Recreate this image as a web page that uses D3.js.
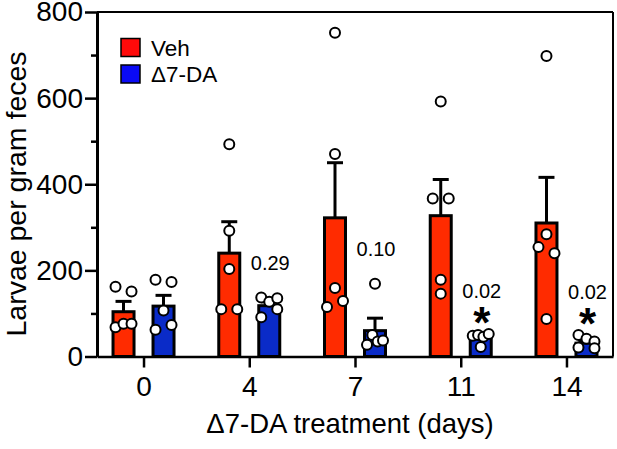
<!DOCTYPE html>
<html>
<head>
<meta charset="utf-8">
<script src="https://cdn.jsdelivr.net/npm/d3@7"></script>
<style>
  html, body { margin: 0; padding: 0; background: #fff; }
  svg { display: block; font-family: "Liberation Sans", Arial, Helvetica, sans-serif; }
</style>
</head>
<body>
<svg id="chart" width="617" height="449"></svg>
<script>
// ---- data ----
const categories = ["0", "4", "7", "11", "14"];
const series = ["Veh", "Δ7-DA"];
const vehMean = [104, 240, 322, 327, 310];
const vehSem = [24, 73, 128, 84, 106];
const daMean = [117, 118, 60, 47, 31];
const daSem = [25, 9, 29, 5, 6];
const vehPoints = [
  [162, 151, 68, 76, 76],
  [493, 292, 203, 110, 110],
  [752, 470, 159, 115, 129],
  [592, 367, 367, 178, 146],
  [698, 284, 254, 240, 87]
];
const daPoints = [
  [178, 173, 107, 62, 73],
  [137, 127, 135, 91, 110],
  [169, 27, 50, 35, 37],
  [48, 50, 46, 52, 22],
  [50, 41, 35, 21, 19]
];
const pLabels = ["", "0.29", "0.10", "0.02", "0.02"];
const significant = [false, false, false, true, true];
const yTicks = [0, 200, 400, 600, 800];
const yMinorTicks = [100, 300, 500, 700];
const xTitle = "Δ7-DA treatment (days)";
const yTitle = "Larvae per gram feces";

// ---- layout ----
const svg = d3.select("#chart");
const width = 617, height = 449;
const margin = { top: 12, right: 4, bottom: 92.5, left: 97 };
const W = width - margin.left - margin.right;
const H = height - margin.top - margin.bottom;
const barColors = ["#FF2B00", "#0A2BC8"];
const legendColors = ["#FF0A0A", "#0A0AF5"];
const FONT = "'Liberation Sans', Arial, sans-serif";

const g = svg.append("g").attr("transform", `translate(${margin.left},${margin.top})`);

const y = d3.scaleLinear().domain([0, 800]).range([H, 0]);
const x = d3.scalePoint().domain(categories).range([0, W]).padding(0.44);
const x1 = d3.scaleBand().domain(series).range([-40, 40]).paddingInner(0.475).paddingOuter(0.2375);

// frame (top & right)
g.append("line").attr("x1", 0).attr("x2", W).attr("y1", 0).attr("y2", 0)
  .attr("stroke", "#000").attr("stroke-width", 2);
g.append("line").attr("x1", W).attr("x2", W).attr("y1", 0).attr("y2", H)
  .attr("stroke", "#000").attr("stroke-width", 2);

// y axis
const yAxis = g.append("g")
  .call(d3.axisLeft(y).tickValues(yTicks).tickSize(12).tickPadding(2).tickSizeOuter(0));
yAxis.select(".domain").attr("stroke-width", 3);
yAxis.selectAll(".tick line").attr("stroke-width", 2.5);
yAxis.selectAll(".tick text").attr("font-size", 28).attr("fill", "#000")
  .attr("font-family", FONT);
const yMinor = g.append("g")
  .call(d3.axisLeft(y).tickValues(yMinorTicks).tickSize(6).tickFormat("").tickSizeOuter(0));
yMinor.select(".domain").remove();
yMinor.selectAll(".tick line").attr("stroke-width", 2.5);

// x axis
const xAxis = g.append("g").attr("transform", `translate(0,${H})`)
  .call(d3.axisBottom(x).tickSize(11).tickPadding(9).tickSizeOuter(0));
xAxis.select(".domain").attr("stroke-width", 2.5);
xAxis.selectAll(".tick line").attr("stroke-width", 2.5);
xAxis.selectAll(".tick text").attr("font-size", 28).attr("fill", "#000")
  .attr("font-family", FONT);

// rows of data per group
const groups = categories.map((c, i) => ({
  cat: c,
  sets: [
    { s: series[0], mean: vehMean[i], sem: vehSem[i], pts: vehPoints[i], color: barColors[0] },
    { s: series[1], mean: daMean[i], sem: daSem[i], pts: daPoints[i], color: barColors[1] }
  ],
  p: pLabels[i], sig: significant[i]
}));

// point offsets: Prism-like rows, spread within the bar
function offsets(vals) {
  const idx = vals.map((v, i) => i).sort((a, b) => vals[b] - vals[a]);
  const bins = [];
  let cur = null;
  idx.forEach(i => {
    const py = y(vals[i]);
    if (cur && py - cur.top <= 10.5) cur.items.push(i);
    else { cur = { top: py, items: [i] }; bins.push(cur); }
  });
  const off = new Array(vals.length).fill(0);
  bins.forEach(b => {
    b.items.sort((a, c) => a - c);
    const k = b.items.length;
    b.items.forEach((i, j) => { off[i] = k === 1 ? 0 : -8 + 16 * j / (k - 1); });
  });
  return off;
}

const gg = g.selectAll(".grp").data(groups).enter().append("g")
  .attr("class", "grp").attr("transform", d => `translate(${x(d.cat)},0)`);

const bw = x1.bandwidth();
const sets = gg.selectAll(".set").data(d => d.sets).enter().append("g").attr("class", "set");

// bars
sets.append("rect")
  .attr("x", d => x1(d.s))
  .attr("width", bw)
  .attr("y", d => y(d.mean))
  .attr("height", d => y(0) - y(d.mean))
  .attr("fill", d => d.color)
  .attr("stroke", "#000").attr("stroke-width", 3);

// error bars (upper)
sets.append("line")
  .attr("x1", d => x1(d.s) + bw / 2).attr("x2", d => x1(d.s) + bw / 2)
  .attr("y1", d => y(d.mean)).attr("y2", d => y(d.mean + d.sem))
  .attr("stroke", "#000").attr("stroke-width", 3);
sets.append("line")
  .attr("x1", d => x1(d.s) + bw / 2 - 8).attr("x2", d => x1(d.s) + bw / 2 + 8)
  .attr("y1", d => y(d.mean + d.sem)).attr("y2", d => y(d.mean + d.sem))
  .attr("stroke", "#000").attr("stroke-width", 3);

// points
sets.each(function (d) {
  const off = offsets(d.pts);
  d3.select(this).selectAll("circle").data(d.pts).enter().append("circle")
    .attr("cx", (v, i) => x1(d.s) + bw / 2 + off[i])
    .attr("cy", v => y(v))
    .attr("r", 5)
    .attr("fill", "#fff").attr("stroke", "#000").attr("stroke-width", 2);
});

// p-value annotations
gg.filter(d => d.p !== "").each(function (d) {
  const s = d.sets[1];
  const top = y(d3.max(s.pts));
  const cx = x1(s.s) + bw / 2;
  const sel = d3.select(this);
  const labelCenter = top - (d.sig ? 43 : 35);
  sel.append("text")
    .attr("x", cx + 1).attr("y", labelCenter + 7)
    .attr("text-anchor", "middle").attr("font-size", 20).attr("fill", "#000")
    .text(d.p);
  if (d.sig) {
    sel.append("text")
      .attr("x", cx + 1).attr("y", top - 19 + 23)
      .attr("text-anchor", "middle").attr("font-size", 44).attr("font-weight", "bold")
      .attr("fill", "#000").text("*");
  }
});

// legend
const leg = svg.append("g").attr("transform", "translate(121,38.5)");
series.forEach((s, i) => {
  leg.append("rect").attr("x", 0).attr("y", i * 26.5).attr("width", 19).attr("height", 18)
    .attr("fill", legendColors[i]).attr("stroke", "#000").attr("stroke-width", 1.5);
  leg.append("text").attr("x", 30).attr("y", i * 26.5 + 17)
    .attr("font-size", 22.5).attr("fill", "#000").text(s);
});

// axis titles
svg.append("text")
  .attr("x", 350).attr("y", 433)
  .attr("text-anchor", "middle").attr("font-size", 27.5).attr("fill", "#000")
  .text(xTitle);
svg.append("text")
  .attr("transform", "translate(26,194) rotate(-90)")
  .attr("text-anchor", "middle").attr("font-size", 28.5).attr("fill", "#000")
  .text(yTitle);
</script>
</body>
</html>
